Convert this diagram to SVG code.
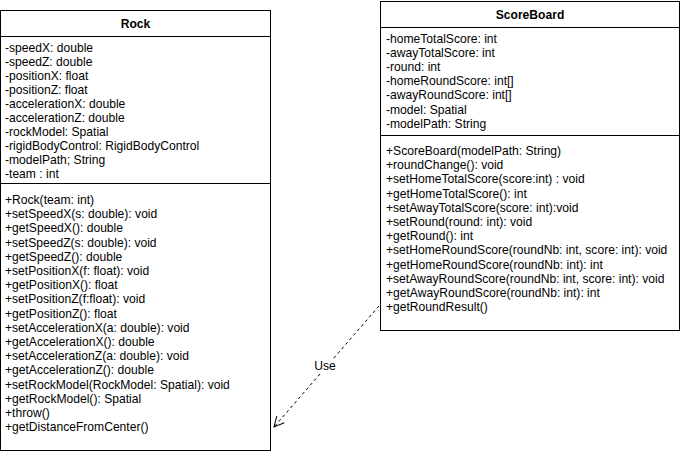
<svg xmlns="http://www.w3.org/2000/svg" width="681" height="454" viewBox="0 0 681 454">
<defs>
<style>
.box{fill:#fff;stroke:#000;stroke-width:1}
.sep{stroke:#000;stroke-width:1}
text{font-family:"Liberation Sans",Arial,Helvetica,sans-serif;font-size:12.1px;fill:#000}
.title{font-weight:bold;text-anchor:middle}
.edge{fill:none;stroke:#000;stroke-width:1;stroke-dasharray:3,3}
</style>
<marker id="open" markerWidth="14" markerHeight="14" refX="11" refY="6" orient="auto" markerUnits="userSpaceOnUse">
<path d="M1,1 L11,6 L1,11" fill="none" stroke="#000" stroke-width="1"/>
</marker>
</defs>
<rect width="681" height="454" fill="#fff"/>
<g id="rock">
<rect class="box" x="0.5" y="10.5" width="270" height="440"/>
<line class="sep" x1="0.5" y1="36.5" x2="270.5" y2="36.5"/>
<line class="sep" x1="0.5" y1="183.5" x2="270.5" y2="183.5"/>
<text class="title" x="135.5" y="28">Rock</text>
<text x="5" y="52">-speedX: double</text>
<text x="5" y="66">-speedZ: double</text>
<text x="5" y="80">-positionX: float</text>
<text x="5" y="94">-positionZ: float</text>
<text x="5" y="108">-accelerationX: double</text>
<text x="5" y="122">-accelerationZ: double</text>
<text x="5" y="136">-rockModel: Spatial</text>
<text x="5" y="150">-rigidBodyControl: RigidBodyControl</text>
<text x="5" y="164">-modelPath; String</text>
<text x="5" y="178">-team : int</text>
<text x="5" y="204">+Rock(team: int)</text>
<text x="5" y="218.2">+setSpeedX(s: double): void</text>
<text x="5" y="232.4">+getSpeedX(): double</text>
<text x="5" y="246.6">+setSpeedZ(s: double): void</text>
<text x="5" y="260.8">+getSpeedZ(): double</text>
<text x="5" y="275">+setPositionX(f: float): void</text>
<text x="5" y="289.2">+getPositionX(): float</text>
<text x="5" y="303.4">+setPositionZ(f:float): void</text>
<text x="5" y="317.6">+getPositionZ(): float</text>
<text x="5" y="331.8">+setAccelerationX(a: double): void</text>
<text x="5" y="346">+getAccelerationX(): double</text>
<text x="5" y="360.2">+setAccelerationZ(a: double): void</text>
<text x="5" y="374.4">+getAccelerationZ(): double</text>
<text x="5" y="388.6">+setRockModel(RockModel: Spatial): void</text>
<text x="5" y="402.8">+getRockModel(): Spatial</text>
<text x="5" y="417">+throw()</text>
<text x="5" y="431.2">+getDistanceFromCenter()</text>
</g>
<g id="scoreboard">
<rect class="box" x="380.5" y="1.5" width="299" height="329"/>
<line class="sep" x1="380.5" y1="27.5" x2="679.5" y2="27.5"/>
<line class="sep" x1="380.5" y1="135.5" x2="679.5" y2="135.5"/>
<text class="title" x="530" y="19">ScoreBoard</text>
<text x="386" y="43">-homeTotalScore: int</text>
<text x="386" y="57.1">-awayTotalScore: int</text>
<text x="386" y="71.2">-round: int</text>
<text x="386" y="85.3">-homeRoundScore: int[]</text>
<text x="386" y="99.4">-awayRoundScore: int[]</text>
<text x="386" y="113.5">-model: Spatial</text>
<text x="386" y="127.6">-modelPath: String</text>
<text x="386" y="155">+ScoreBoard(modelPath: String)</text>
<text x="386" y="169.2">+roundChange(): void</text>
<text x="386" y="183.4">+setHomeTotalScore(score:int) : void</text>
<text x="386" y="197.6">+getHomeTotalScore(): int</text>
<text x="386" y="211.8">+setAwayTotalScore(score: int):void</text>
<text x="386" y="226">+setRound(round: int): void</text>
<text x="386" y="240.2">+getRound(): int</text>
<text x="386" y="254.4">+setHomeRoundScore(roundNb: int, score: int): void</text>
<text x="386" y="268.6">+getHomeRoundScore(roundNb: int): int</text>
<text x="386" y="282.8">+setAwayRoundScore(roundNb: int, score: int): void</text>
<text x="386" y="297">+getAwayRoundScore(roundNb: int): int</text>
<text x="386" y="311.2">+getRoundResult()</text>
</g>
<g id="connectors">
<path class="edge" d="M379,306 L274,427" marker-end="url(#open)"/>
<rect x="313" y="359" width="24" height="14" fill="#fff"/>
<text x="325" y="370" text-anchor="middle" font-size="11px">Use</text>
</g>
</svg>
